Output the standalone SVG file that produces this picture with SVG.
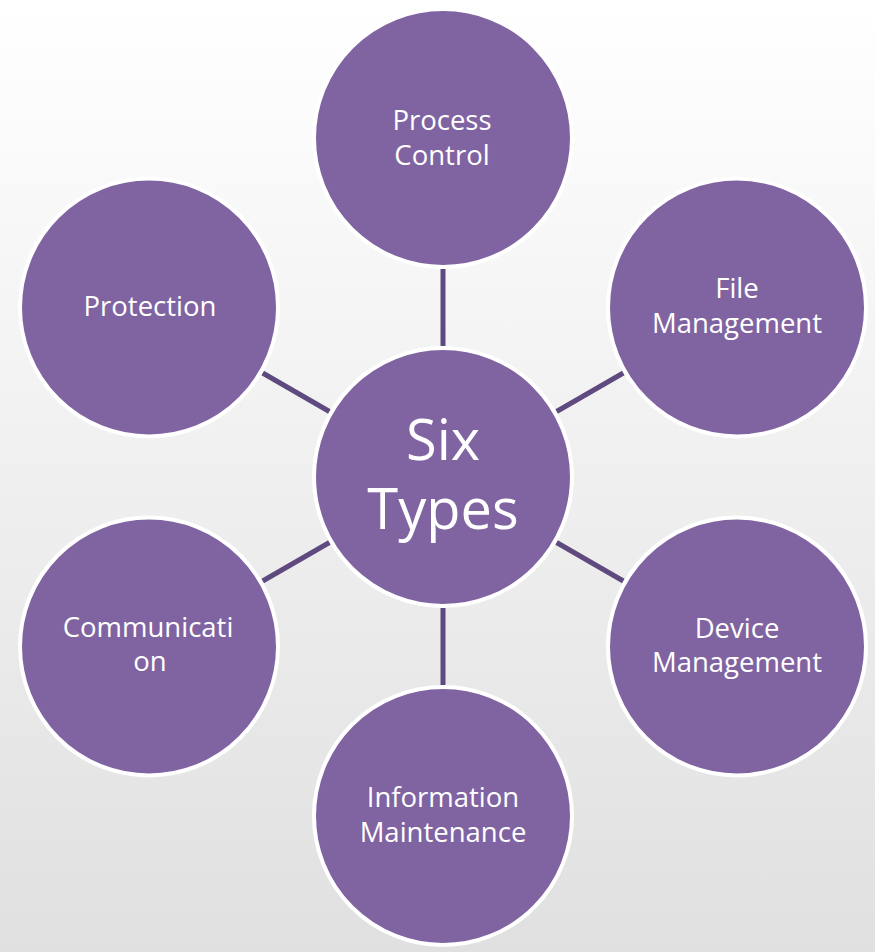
<svg xmlns="http://www.w3.org/2000/svg" width="875" height="952" viewBox="0 0 875 952">
<defs>
<linearGradient id="bg" x1="0" y1="0" x2="0" y2="1">
<stop offset="0" stop-color="#ffffff"/>
<stop offset="1" stop-color="#e1e0e0"/>
</linearGradient>
</defs>
<style>
.node circle{fill:#8064a2;stroke:#ffffff;stroke-width:4}
.node text{fill:#ffffff;font-family:"Open Sans","Liberation Sans",sans-serif;font-size:27.5px;text-anchor:middle}
.hub text{font-size:56px}
#connectors line{stroke:#5f4a80;stroke-width:5}
</style>
<rect x="0" y="0" width="875" height="952" fill="url(#bg)"/>
<g id="connectors">
<line x1="443" y1="346" x2="443" y2="269"/>
<line x1="556.6" y1="411.5" x2="623.3" y2="373"/>
<line x1="556.6" y1="542.5" x2="623.3" y2="581"/>
<line x1="443" y1="608" x2="443" y2="685"/>
<line x1="329.4" y1="542.5" x2="262.7" y2="581"/>
<line x1="329.4" y1="411.5" x2="262.7" y2="373"/>
</g>
<g id="hub" class="node hub">
<circle cx="443" cy="477" r="129"/>
<text x="443" y="460">Six</text>
<text x="443" y="529">Types</text>
</g>
<g id="process-control" class="node">
<circle cx="443" cy="138" r="129"/>
<text x="442" y="130">Process</text>
<text x="442" y="165">Control</text>
</g>
<g id="file-management" class="node">
<circle cx="737" cy="307.5" r="129"/>
<text x="737" y="298">File</text>
<text x="737" y="333">Management</text>
</g>
<g id="device-management" class="node">
<circle cx="737" cy="646.5" r="129"/>
<text x="737" y="638">Device</text>
<text x="737" y="672">Management</text>
</g>
<g id="information-maintenance" class="node">
<circle cx="443" cy="816" r="129"/>
<text x="443" y="807">Information</text>
<text x="443" y="842">Maintenance</text>
</g>
<g id="communication" class="node">
<circle cx="149" cy="646.5" r="129"/>
<text x="148" y="637">Communicati</text>
<text x="150" y="671">on</text>
</g>
<g id="protection" class="node">
<circle cx="149" cy="307.5" r="129"/>
<text x="150" y="316">Protection</text>
</g>
</svg>
